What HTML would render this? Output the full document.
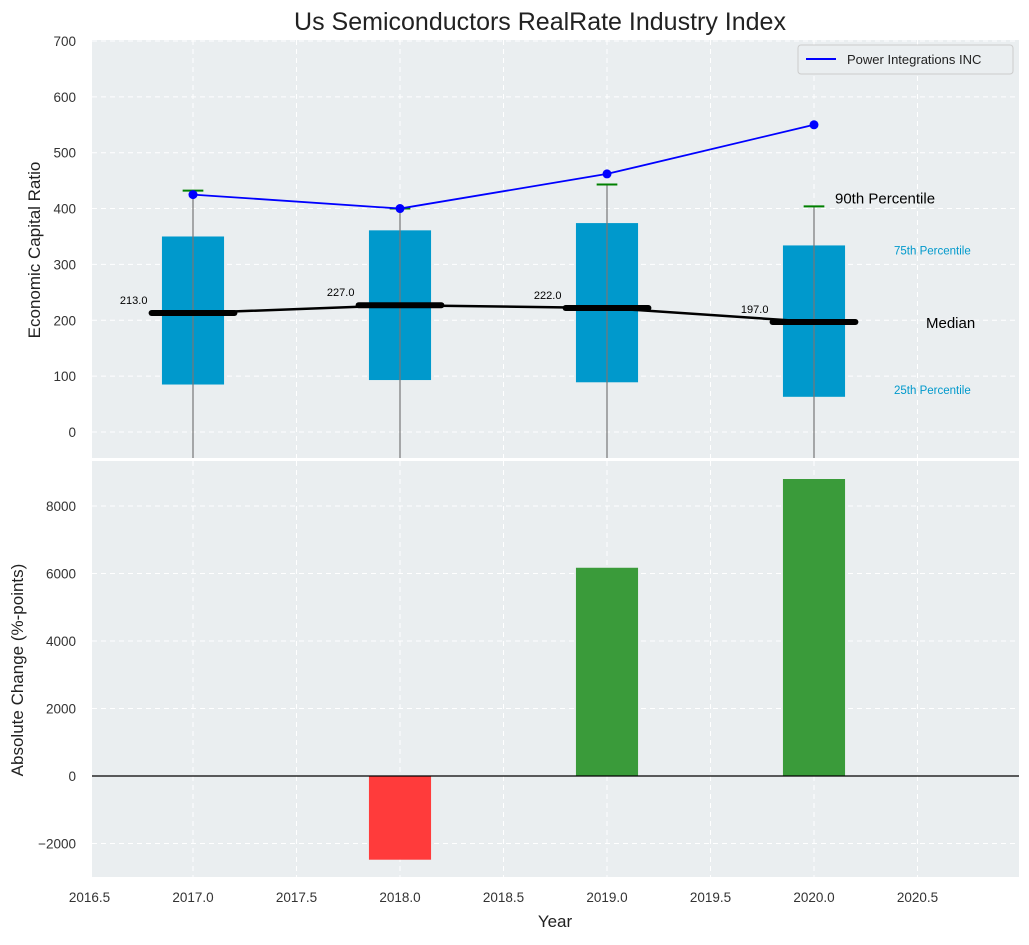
<!DOCTYPE html>
<html><head><meta charset="utf-8"><style>
body{margin:0;background:#fff;}
svg text{font-family:"Liberation Sans",sans-serif;}
</style></head><body>
<svg id="c" width="1029" height="940" xmlns="http://www.w3.org/2000/svg"></svg>
<script>
const years=[2017,2018,2019,2020];
const p25=[85,93,89,63];
const p75=[350,361,374,334];
const medians=[213,227,222,197];
const p90=[432,400,443,404];
const companyValues=[425,400,462,550];
const absChange=[0,-2480,6170,8800];
const xTicks=[2016.5,2017.0,2017.5,2018.0,2018.5,2019.0,2019.5,2020.0,2020.5];
const yTicksTop=[0,100,200,300,400,500,600,700];
const yTicksBot=[-2000,0,2000,4000,6000,8000];

const NS="http://www.w3.org/2000/svg";
const svg=document.getElementById('c');
function el(t,a,txt){const e=document.createElementNS(NS,t);for(const k in a)e.setAttribute(k,a[k]);if(txt!==undefined)e.textContent=txt;svg.appendChild(e);return e;}
const L=92,R=1019;
const x=v=>89.5+(v-2016.5)*207;
const T1=40,B1=458,T2=461,B2=877;
const yt=v=>432-v*0.5586;
const yb=v=>776-v*0.03375;

let e=el('rect',{x:L,y:T1,width:R-L,height:B1-T1,fill:'#eaeef0'});

e=el('rect',{x:L,y:T2,width:R-L,height:B2-T2,fill:'#eaeef0'});

xTicks.forEach(v=>{
 [[T1,B1],[T2,B2]].forEach(([a,b])=>{el('line',{x1:x(v),x2:x(v),y1:a,y2:b,stroke:'#fff','stroke-dasharray':'5,4','stroke-width':1});});
 e=el('text',{x:x(v),y:902,'text-anchor':'middle','font-size':13.5,fill:'#333'},v.toFixed(1));
 
});
yTicksTop.forEach(v=>{
 el('line',{x1:L,x2:R,y1:yt(v),y2:yt(v),stroke:'#fff','stroke-dasharray':'5,4'});
 e=el('text',{x:76,y:yt(v)+5,'text-anchor':'end','font-size':13.5,fill:'#333'},v);
 
});
yTicksBot.forEach(v=>{
 el('line',{x1:L,x2:R,y1:yb(v),y2:yb(v),stroke:'#fff','stroke-dasharray':'5,4'});
 e=el('text',{x:76,y:yb(v)+5,'text-anchor':'end','font-size':13.5,fill:'#333'},v<0?'\u2212'+Math.abs(v):v);
 
});
years.forEach((yr,i)=>{
 e=el('rect',{x:x(yr-0.15),y:yt(p75[i]),width:x(yr+0.15)-x(yr-0.15),height:yt(p25[i])-yt(p75[i]),fill:'#0099cc'});
 
 e=el('line',{x1:x(yr),x2:x(yr),y1:yt(p90[i]),y2:B1,stroke:'#777','stroke-width':1.2});
 
 e=el('line',{x1:x(yr-0.05),x2:x(yr+0.05),y1:yt(p90[i]),y2:yt(p90[i]),stroke:'green','stroke-width':2});
 
});
e=el('polyline',{points:years.map((yr,i)=>x(yr)+','+yt(medians[i])).join(' '),fill:'none',stroke:'#000','stroke-width':2.5});

years.forEach((yr,i)=>{
 e=el('line',{x1:x(yr-0.2),x2:x(yr+0.2),y1:yt(medians[i]),y2:yt(medians[i]),stroke:'#000','stroke-width':6,'stroke-linecap':'round'});
 
 e=el('text',{x:x(yr-0.22),y:yt(medians[i])-9,'text-anchor':'end','font-size':11,fill:'#000'},medians[i].toFixed(1));
 
});
e=el('polyline',{points:years.map((yr,i)=>x(yr)+','+yt(companyValues[i])).join(' '),fill:'none',stroke:'blue','stroke-width':1.8});

years.forEach((yr,i)=>{
 e=el('circle',{cx:x(yr),cy:yt(companyValues[i]),r:4.5,fill:'blue'});
 
});
const last=years.length-1;
e=el('text',{x:835,y:yt(p90[last])-3,'font-size':15,fill:'#000'},'90th Percentile');
e=el('text',{x:894,y:yt(p75[last])+9,'font-size':11.5,fill:'#0099cc'},'75th Percentile');
e=el('text',{x:926,y:yt(medians[last])+6,'font-size':15,fill:'#000'},'Median');
e=el('text',{x:894,y:yt(p25[last])-3,'font-size':11.5,fill:'#0099cc'},'25th Percentile');
e=el('rect',{x:798,y:45,width:215,height:29,fill:'#eaeef0',stroke:'#ccc',rx:3});
el('line',{x1:806,x2:836,y1:59,y2:59,stroke:'blue','stroke-width':2});
e=el('text',{x:847,y:64,'font-size':13,fill:'#222'},'Power Integrations INC');
years.forEach((yr,i)=>{
 const v=absChange[i];if(v===0)return;
 e=el('rect',{x:x(yr-0.15),y:Math.min(yb(v),yb(0)),width:x(yr+0.15)-x(yr-0.15),height:Math.abs(yb(v)-yb(0)),fill:v<0?'#ff3b3b':'#3a9b3a'});
 
});
e=el('line',{x1:L,x2:R,y1:yb(0),y2:yb(0),stroke:'#000','stroke-width':1.2});
e=el('text',{x:540,y:30,'text-anchor':'middle','font-size':25,fill:'#222'},'Us Semiconductors RealRate Industry Index');
e=el('text',{x:555,y:927,'text-anchor':'middle','font-size':17,fill:'#222'},'Year');
e=el('text',{x:0,y:0,'text-anchor':'middle','font-size':17,fill:'#222',transform:'translate(40,250) rotate(-90)'},'Economic Capital Ratio');
e=el('text',{x:0,y:0,'text-anchor':'middle','font-size':17,fill:'#222',transform:'translate(23,670) rotate(-90)'},'Absolute Change (%-points)');
</script>
</body></html>
